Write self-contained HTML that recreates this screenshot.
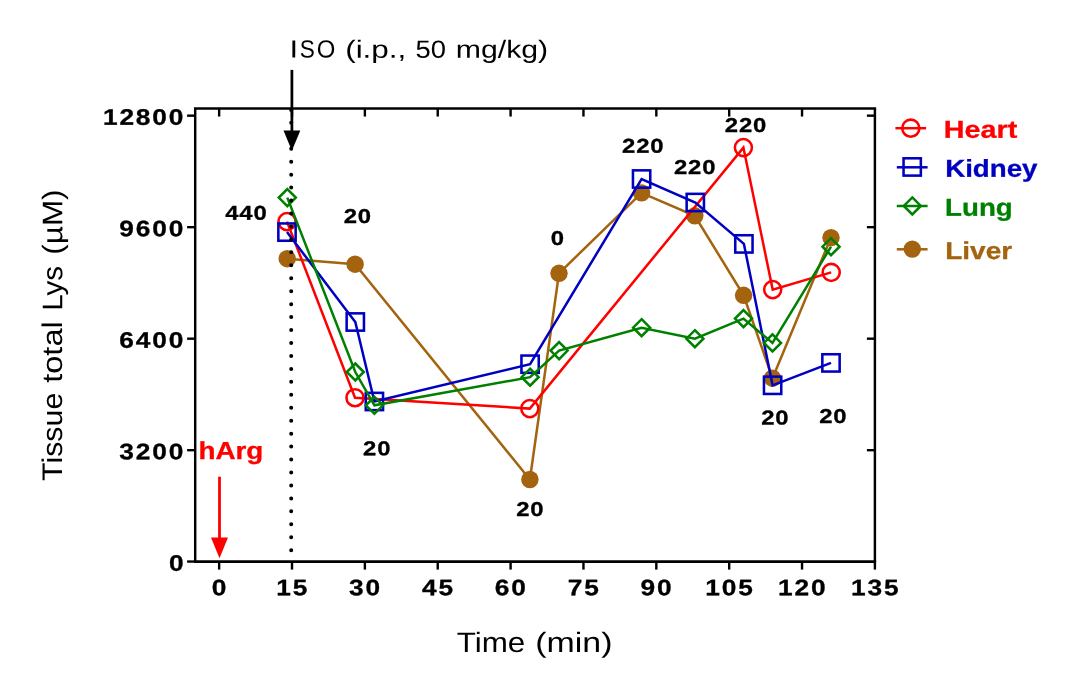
<!DOCTYPE html>
<html lang="en"><head><meta charset="utf-8"><title>Tissue total Lys</title>
<style>
html,body{margin:0;padding:0;background:#fff;}
body{width:1069px;height:682px;overflow:hidden;}
svg{display:block;will-change:transform;}
text{font-family:"Liberation Sans",sans-serif;}
.b{font-weight:bold;}
</style></head><body>
<svg width="1069" height="682" viewBox="0 0 1069 682">
<rect width="1069" height="682" fill="#fff"/>
<g stroke="#a3630f" fill="none">
<polyline points="287.2,258.7 355.1,264.2 529.9,479.5 559.0,273.3 641.6,192.9 694.8,215.8 743.6,295.3 772.5,378.2 831.0,237.6" stroke-width="2.50" stroke-linejoin="miter"/>
<circle cx="287.2" cy="258.7" r="8.72" fill="#a3630f" stroke="none"/>
<circle cx="355.1" cy="264.2" r="8.72" fill="#a3630f" stroke="none"/>
<circle cx="529.9" cy="479.5" r="8.72" fill="#a3630f" stroke="none"/>
<circle cx="559.0" cy="273.3" r="8.72" fill="#a3630f" stroke="none"/>
<circle cx="641.6" cy="192.9" r="8.72" fill="#a3630f" stroke="none"/>
<circle cx="694.8" cy="215.8" r="8.72" fill="#a3630f" stroke="none"/>
<circle cx="743.6" cy="295.3" r="8.72" fill="#a3630f" stroke="none"/>
<circle cx="772.5" cy="378.2" r="8.72" fill="#a3630f" stroke="none"/>
<circle cx="831.0" cy="237.6" r="8.72" fill="#a3630f" stroke="none"/>
</g>
<g stroke="#ff0000" fill="none">
<polyline points="287.0,221.6 355.0,397.7 529.8,408.6 743.4,147.6 772.7,289.6 831.2,272.4" stroke-width="2.50" stroke-linejoin="miter"/>
<circle cx="287.0" cy="221.6" r="8.55" stroke-width="2.55"/>
<circle cx="355.0" cy="397.7" r="8.55" stroke-width="2.55"/>
<circle cx="529.8" cy="408.6" r="8.55" stroke-width="2.55"/>
<circle cx="743.4" cy="147.6" r="8.55" stroke-width="2.55"/>
<circle cx="772.7" cy="289.6" r="8.55" stroke-width="2.55"/>
<circle cx="831.2" cy="272.4" r="8.55" stroke-width="2.55"/>
</g>
<g stroke="#0000c0" fill="none">
<polyline points="287.0,232.1 355.3,322.0 374.4,401.5 530.1,364.2 641.6,179.0 695.3,202.5 743.9,243.9 772.6,385.3 831.0,362.9" stroke-width="2.50" stroke-linejoin="miter"/>
<rect x="278.35" y="223.45" width="17.30" height="17.30" stroke-width="2.55"/>
<rect x="346.65" y="313.35" width="17.30" height="17.30" stroke-width="2.55"/>
<rect x="365.75" y="392.85" width="17.30" height="17.30" stroke-width="2.55"/>
<rect x="521.45" y="355.55" width="17.30" height="17.30" stroke-width="2.55"/>
<rect x="632.95" y="170.35" width="17.30" height="17.30" stroke-width="2.55"/>
<rect x="686.65" y="193.85" width="17.30" height="17.30" stroke-width="2.55"/>
<rect x="735.25" y="235.25" width="17.30" height="17.30" stroke-width="2.55"/>
<rect x="763.95" y="376.65" width="17.30" height="17.30" stroke-width="2.55"/>
<rect x="822.35" y="354.25" width="17.30" height="17.30" stroke-width="2.55"/>
</g>
<g stroke="#008000" fill="none">
<polyline points="287.3,197.6 355.3,372.0 374.4,405.3 530.1,377.2 559.1,350.6 641.6,327.7 694.9,338.7 743.5,318.6 772.5,342.9 831.0,246.7" stroke-width="2.50" stroke-linejoin="miter"/>
<path d="M287.30 189.10L295.80 197.60L287.30 206.10L278.80 197.60Z" stroke-width="2.55"/>
<path d="M355.30 363.50L363.80 372.00L355.30 380.50L346.80 372.00Z" stroke-width="2.55"/>
<path d="M374.40 396.80L382.90 405.30L374.40 413.80L365.90 405.30Z" stroke-width="2.55"/>
<path d="M530.10 368.70L538.60 377.20L530.10 385.70L521.60 377.20Z" stroke-width="2.55"/>
<path d="M559.10 342.10L567.60 350.60L559.10 359.10L550.60 350.60Z" stroke-width="2.55"/>
<path d="M641.60 319.20L650.10 327.70L641.60 336.20L633.10 327.70Z" stroke-width="2.55"/>
<path d="M694.90 330.20L703.40 338.70L694.90 347.20L686.40 338.70Z" stroke-width="2.55"/>
<path d="M743.50 310.10L752.00 318.60L743.50 327.10L735.00 318.60Z" stroke-width="2.55"/>
<path d="M772.50 334.40L781.00 342.90L772.50 351.40L764.00 342.90Z" stroke-width="2.55"/>
<path d="M831.00 238.20L839.50 246.70L831.00 255.20L822.50 246.70Z" stroke-width="2.55"/>
</g>
<line x1="291.2" y1="109.9" x2="291.2" y2="550.3" stroke="#000" stroke-width="4.0" stroke-linecap="round" stroke-dasharray="0 12.95"/>
<g stroke="#000" fill="none" stroke-linecap="butt">
<line x1="193.97" y1="108.45" x2="876.12" y2="108.45" stroke-width="2.65"/>
<line x1="193.97" y1="561.55" x2="876.12" y2="561.55" stroke-width="2.65"/>
<line x1="195.20" y1="108.45" x2="195.20" y2="561.55" stroke-width="2.45"/>
<line x1="874.90" y1="108.45" x2="874.90" y2="561.55" stroke-width="2.45"/>
<g stroke-width="2.40">
<line x1="219.15" y1="561.55" x2="219.15" y2="569.60"/>
<line x1="219.15" y1="108.45" x2="219.15" y2="116.55"/>
<line x1="292.01" y1="561.55" x2="292.01" y2="569.60"/>
<line x1="292.01" y1="108.45" x2="292.01" y2="116.55"/>
<line x1="364.87" y1="561.55" x2="364.87" y2="569.60"/>
<line x1="364.87" y1="108.45" x2="364.87" y2="116.55"/>
<line x1="437.73" y1="561.55" x2="437.73" y2="569.60"/>
<line x1="437.73" y1="108.45" x2="437.73" y2="116.55"/>
<line x1="510.59" y1="561.55" x2="510.59" y2="569.60"/>
<line x1="510.59" y1="108.45" x2="510.59" y2="116.55"/>
<line x1="583.46" y1="561.55" x2="583.46" y2="569.60"/>
<line x1="583.46" y1="108.45" x2="583.46" y2="116.55"/>
<line x1="656.32" y1="561.55" x2="656.32" y2="569.60"/>
<line x1="656.32" y1="108.45" x2="656.32" y2="116.55"/>
<line x1="729.18" y1="561.55" x2="729.18" y2="569.60"/>
<line x1="729.18" y1="108.45" x2="729.18" y2="116.55"/>
<line x1="802.04" y1="561.55" x2="802.04" y2="569.60"/>
<line x1="802.04" y1="108.45" x2="802.04" y2="116.55"/>
<line x1="874.90" y1="561.55" x2="874.90" y2="569.60"/>
<line x1="187.10" y1="561.55" x2="195.20" y2="561.55"/>
<line x1="187.10" y1="450.19" x2="195.20" y2="450.19"/>
<line x1="866.90" y1="450.19" x2="874.90" y2="450.19"/>
<line x1="187.10" y1="338.68" x2="195.20" y2="338.68"/>
<line x1="866.90" y1="338.68" x2="874.90" y2="338.68"/>
<line x1="187.10" y1="227.17" x2="195.20" y2="227.17"/>
<line x1="866.90" y1="227.17" x2="874.90" y2="227.17"/>
<line x1="187.10" y1="115.66" x2="195.20" y2="115.66"/>
<line x1="866.90" y1="115.66" x2="874.90" y2="115.66"/>
</g></g>
<line x1="291.9" y1="69.9" x2="291.9" y2="132" stroke="#000" stroke-width="2.75"/>
<path d="M283.5 130.6L300.3 130.6L291.9 150.8Z" fill="#000"/>
<line x1="219.5" y1="476.7" x2="219.5" y2="539" stroke="#ff0000" stroke-width="2.8"/>
<path d="M211.0 537.6L228.0 537.6L219.5 558.2Z" fill="#ff0000"/>
<g stroke="#ff0000" fill="none">
<line x1="895.4" y1="128.20" x2="926.1" y2="128.20" stroke-width="2.50"/>
<circle cx="910.8" cy="128.2" r="8.55" stroke-width="2.55"/>
</g>
<g stroke="#0000c0" fill="none">
<line x1="896.8" y1="167.30" x2="927.6" y2="167.30" stroke-width="2.50"/>
<rect x="903.55" y="158.30" width="17.30" height="17.30" stroke-width="2.55"/>
</g>
<g stroke="#008000" fill="none">
<line x1="896.8" y1="206.00" x2="927.6" y2="206.00" stroke-width="2.50"/>
<path d="M912.30 197.45L920.80 205.95L912.30 214.45L903.80 205.95Z" stroke-width="2.55"/>
</g>
<g stroke="#a3630f" fill="none">
<line x1="896.8" y1="249.30" x2="927.6" y2="249.30" stroke-width="2.50"/>
<circle cx="912.3" cy="249.1" r="8.72" fill="#a3630f" stroke="none"/>
</g>
<text transform="translate(0 57.40) rotate(0.04)" font-size="24.85" fill="#000"><tspan x="289.55" textLength="8.58" lengthAdjust="spacingAndGlyphs">I</tspan><tspan x="299.68" textLength="15.07" lengthAdjust="spacingAndGlyphs">S</tspan><tspan x="316.72" textLength="18.53" lengthAdjust="spacingAndGlyphs">O</tspan> <tspan x="345.18" textLength="61.10" lengthAdjust="spacingAndGlyphs">(i.p.,</tspan> <tspan x="415.57" textLength="30.43" lengthAdjust="spacingAndGlyphs">50</tspan> <tspan x="455.73" textLength="92.43" lengthAdjust="spacingAndGlyphs">mg/kg)</tspan></text>
<text class="b" transform="translate(102.90 124.71) rotate(0.04) scale(1.1700 1)" font-size="22.46" letter-spacing="1.60" fill="#000" stroke="#000" stroke-width="0.3">12800</text>
<text class="b" transform="translate(119.37 236.22) rotate(0.04) scale(1.1700 1)" font-size="22.46" letter-spacing="1.60" fill="#000" stroke="#000" stroke-width="0.3">9600</text>
<text class="b" transform="translate(119.37 347.73) rotate(0.04) scale(1.1700 1)" font-size="22.46" letter-spacing="1.60" fill="#000" stroke="#000" stroke-width="0.3">6400</text>
<text class="b" transform="translate(119.37 459.24) rotate(0.04) scale(1.1700 1)" font-size="22.46" letter-spacing="1.60" fill="#000" stroke="#000" stroke-width="0.3">3200</text>
<text class="b" transform="translate(169.03 570.75) rotate(0.04) scale(1.1700 1)" font-size="22.46" letter-spacing="1.60" fill="#000" stroke="#000" stroke-width="0.3">0</text>
<text class="b" transform="translate(211.64 595.30) rotate(0.04) scale(1.1700 1)" font-size="22.46" letter-spacing="1.60" fill="#000" stroke="#000" stroke-width="0.3">0</text>
<text class="b" transform="translate(276.26 595.30) rotate(0.04) scale(1.1700 1)" font-size="22.46" letter-spacing="1.60" fill="#000" stroke="#000" stroke-width="0.3">15</text>
<text class="b" transform="translate(349.12 595.30) rotate(0.04) scale(1.1700 1)" font-size="22.46" letter-spacing="1.60" fill="#000" stroke="#000" stroke-width="0.3">30</text>
<text class="b" transform="translate(421.98 595.30) rotate(0.04) scale(1.1700 1)" font-size="22.46" letter-spacing="1.60" fill="#000" stroke="#000" stroke-width="0.3">45</text>
<text class="b" transform="translate(494.84 595.30) rotate(0.04) scale(1.1700 1)" font-size="22.46" letter-spacing="1.60" fill="#000" stroke="#000" stroke-width="0.3">60</text>
<text class="b" transform="translate(567.71 595.30) rotate(0.04) scale(1.1700 1)" font-size="22.46" letter-spacing="1.60" fill="#000" stroke="#000" stroke-width="0.3">75</text>
<text class="b" transform="translate(640.57 595.30) rotate(0.04) scale(1.1700 1)" font-size="22.46" letter-spacing="1.60" fill="#000" stroke="#000" stroke-width="0.3">90</text>
<text class="b" transform="translate(705.18 595.30) rotate(0.04) scale(1.1700 1)" font-size="22.46" letter-spacing="1.60" fill="#000" stroke="#000" stroke-width="0.3">105</text>
<text class="b" transform="translate(778.05 595.30) rotate(0.04) scale(1.1700 1)" font-size="22.46" letter-spacing="1.60" fill="#000" stroke="#000" stroke-width="0.3">120</text>
<text class="b" transform="translate(850.91 595.30) rotate(0.04) scale(1.1700 1)" font-size="22.46" letter-spacing="1.60" fill="#000" stroke="#000" stroke-width="0.3">135</text>
<text class="b" transform="translate(225.19 219.85) rotate(0.04) scale(1.1900 1)" font-size="20.06" letter-spacing="0.74" fill="#000" stroke="#000" stroke-width="0.3">440</text>
<text class="b" transform="translate(343.71 223.10) rotate(0.04) scale(1.1900 1)" font-size="20.06" letter-spacing="0.74" fill="#000" stroke="#000" stroke-width="0.3">20</text>
<text class="b" transform="translate(363.08 455.30) rotate(0.04) scale(1.1900 1)" font-size="20.06" letter-spacing="0.74" fill="#000" stroke="#000" stroke-width="0.3">20</text>
<text class="b" transform="translate(516.21 515.90) rotate(0.04) scale(1.1900 1)" font-size="20.06" letter-spacing="0.74" fill="#000" stroke="#000" stroke-width="0.3">20</text>
<text class="b" transform="translate(550.85 244.90) rotate(0.04) scale(1.1900 1)" font-size="20.06" letter-spacing="0.74" fill="#000" stroke="#000" stroke-width="0.3">0</text>
<text class="b" transform="translate(622.06 152.80) rotate(0.04) scale(1.1900 1)" font-size="20.06" letter-spacing="0.74" fill="#000" stroke="#000" stroke-width="0.3">220</text>
<text class="b" transform="translate(673.94 173.95) rotate(0.04) scale(1.1900 1)" font-size="20.06" letter-spacing="0.74" fill="#000" stroke="#000" stroke-width="0.3">220</text>
<text class="b" transform="translate(724.81 131.90) rotate(0.04) scale(1.1900 1)" font-size="20.06" letter-spacing="0.74" fill="#000" stroke="#000" stroke-width="0.3">220</text>
<text class="b" transform="translate(761.21 424.50) rotate(0.04) scale(1.1900 1)" font-size="20.06" letter-spacing="0.74" fill="#000" stroke="#000" stroke-width="0.3">20</text>
<text class="b" transform="translate(819.21 423.00) rotate(0.04) scale(1.1900 1)" font-size="20.06" letter-spacing="0.74" fill="#000" stroke="#000" stroke-width="0.3">20</text>
<text class="b" transform="translate(198.43 458.95) rotate(0.04) scale(1.1327 1)" font-size="24.56" fill="#ff0000" stroke="#ff0000" stroke-width="0.3">hArg</text>
<text class="b" transform="translate(943.80 137.80) rotate(0.04) scale(1.1770 1)" font-size="24.42" fill="#ff0000" stroke="#ff0000" stroke-width="0.3">Heart</text>
<text class="b" transform="translate(945.15 176.80) rotate(0.04) scale(1.1350 1)" font-size="24.42" fill="#0000c0" stroke="#0000c0" stroke-width="0.3">Kidney</text>
<text class="b" transform="translate(945.10 215.75) rotate(0.04) scale(1.1330 1)" font-size="24.42" fill="#008000" stroke="#008000" stroke-width="0.3">Lung</text>
<text class="b" transform="translate(945.22 258.90) rotate(0.04) scale(1.1462 1)" font-size="24.42" fill="#a3630f" stroke="#a3630f" stroke-width="0.3">Liver</text>
<text transform="translate(0 651.65) rotate(0.04)" font-size="28.13" fill="#000"><tspan x="456.73" textLength="68.56" lengthAdjust="spacingAndGlyphs">Time</tspan> <tspan x="535.25" textLength="77.23" lengthAdjust="spacingAndGlyphs">(min)</tspan></text>
<text transform="translate(62.35 0) rotate(-89.96)" font-size="28.34" fill="#000"><tspan x="-481.02" textLength="88.30" lengthAdjust="spacingAndGlyphs">Tissue</tspan> <tspan x="-382.85" textLength="61.64" lengthAdjust="spacingAndGlyphs">total</tspan> <tspan x="-310.85" textLength="44.80" lengthAdjust="spacingAndGlyphs">Lys</tspan> <tspan x="-254.70" textLength="65.25" lengthAdjust="spacingAndGlyphs">(µM)</tspan></text>
</svg></body></html>
